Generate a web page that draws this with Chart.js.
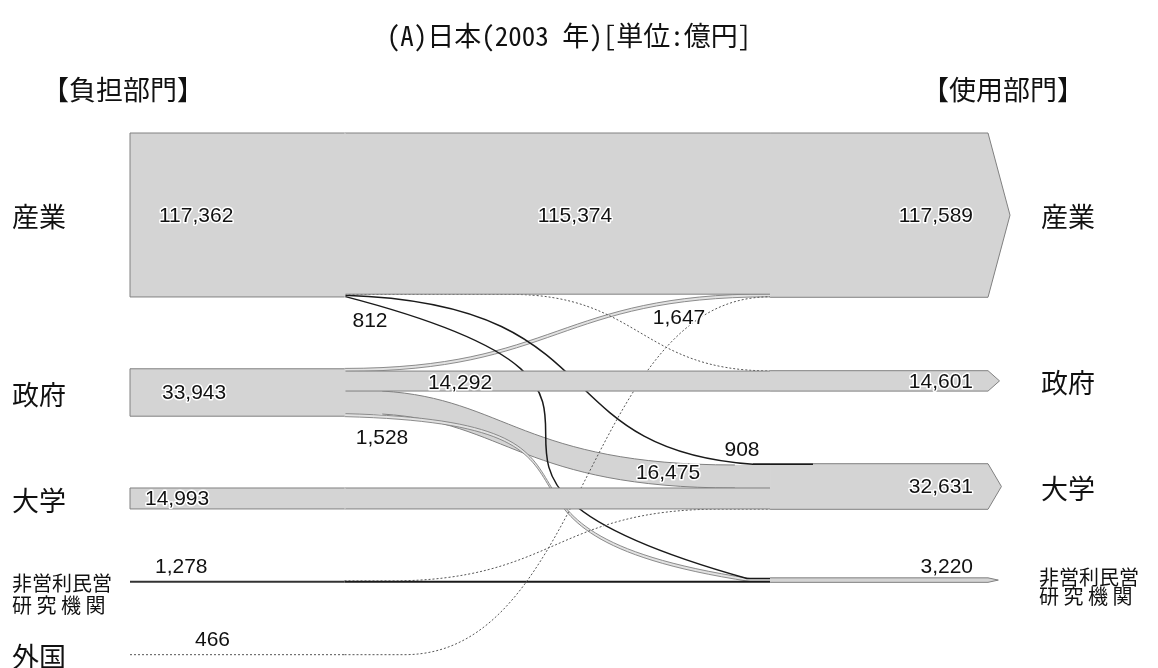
<!DOCTYPE html>
<html lang="ja">
<head>
<meta charset="utf-8">
<title>研究費の流れ 日本 2003年</title>
<script src="https://cdn.jsdelivr.net/npm/chart.js@4.4.1/dist/chart.umd.min.js"></script>
<style>
  html, body { margin: 0; padding: 0; background: #fff; }
  canvas { display: block; }
</style>
</head>
<body>
<canvas id="flow" width="1158" height="668"></canvas>
<script>
// ---- data (単位: 億円) ----
const titleText = '(A)日本(2003 年)[単位:億円]'
const leftHead = '【負担部門】'
const rightHead = '【使用部門】'

const sourceNames = [['産業'], ['政府'], ['大学'], ['非営利民営', '研 究 機 関'], ['外国']]
const sourceTotals = [117362, 33943, 14993, 1278, 466]
const targetNames = [['産業'], ['政府'], ['大学'], ['非営利民営', '研 究 機 関']]
const targetTotals = [117589, 14601, 32631, 3220]

// flows 負担 -> 使用 (only the ones drawn in the figure)
const flowFrom   = [0, 0, 0, 0, 1, 1, 1, 1, 2, 3, 3, 4]
const flowTo     = [0, 1, 2, 3, 0, 1, 2, 3, 2, 2, 3, 0]
const flowValues = [115374, 268, 908, 812, 1647, 14292, 16475, 1528, 14993, 255, 880, 466]

// ---- layout ----
const GAP = 51400          // vertical gap between nodes, in 億円 units
const SRC_END = 25         // x (0-100) where the left boxes stop
const TGT_START = 74.6     // x where the right arrows start
// curve per flow: [x start, x end, handle start, handle end, tilt start, tilt end]
const curves = {
  1: [44.3, 74.6, 0.5, 0.5, 0, 0],
  2: [25, 72.6, 0.67, 0.52, 0.05, 0.09],
  3: [25, 71.9, 1.0, 1.0, 0.37, 0.4],
  4: [25, 74.6, 0.5, 0.5, 0, 0],
  6: [29.4, 70.5, 0.35, 0.6, 0.1, 0],
  7: [25, 72.3, 0.8, 0.8, 0.05, 0.3],
  9: [30.3, 68.8, 0.5, 0.5, 0, 0],
  11: [32, 74.6, 0.5, 0.5, 0, 0],
}
const lineTail = {2: 79.6}
const srcLabelX = [159, 162, 145, 155, 195]
const tgtLabelRight = 973
const flowLabelAt = {0: [575, 216], 2: [742, 450], 3: [370, 321], 4: [679, 318], 5: [460, 383], 6: [668, 473], 7: [382, 438]}

const FILL = '#d4d4d4'
const EDGE = '#808080'
const NUM_FONT = '21px "Liberation Sans", Arial, sans-serif'
const JP = '"Noto Sans CJK JP", sans-serif'
const JP_MONO = '"Noto Sans Mono CJK JP", "Noto Sans CJK JP", sans-serif'

// stack the left nodes, then place the right nodes so self flows run straight
const srcTop = []
let acc = 0
sourceTotals.forEach(v => { srcTop.push(acc); acc += v + GAP })
const yMax = acc - GAP

const fSrc = []
const srcCursor = srcTop.slice()
flowValues.forEach((v, i) => { fSrc[i] = srcCursor[flowFrom[i]]; srcCursor[flowFrom[i]] += v })

const tgtTop = targetTotals.map((t, j) => {
  const self = flowValues.findIndex((v, i) => flowFrom[i] === j && flowTo[i] === j)
  let above = 0
  flowValues.forEach((v, i) => { if (flowTo[i] === j && flowFrom[i] < j) above += v })
  return fSrc[self] - above
})
const fTgt = []
const tgtCursor = tgtTop.slice()
flowValues.forEach((v, i) => { fTgt[i] = tgtCursor[flowTo[i]]; tgtCursor[flowTo[i]] += v })

function numLabel(ctx, text, px, py, align) {
  ctx.save()
  ctx.font = NUM_FONT
  ctx.textAlign = align
  ctx.textBaseline = 'middle'
  ctx.lineJoin = 'round'
  ctx.lineWidth = 3
  ctx.strokeStyle = '#fff'
  ctx.strokeText(text, px, py)
  ctx.fillStyle = '#111'
  ctx.fillText(text, px, py)
  ctx.restore()
}

const flowPlugin = {
  id: 'flowPlugin',
  afterDraw(chart) {
    const {ctx, scales: {x, y}} = chart
    const X = v => x.getPixelForValue(v)
    const Y = v => y.getPixelForValue(v)
    const xs = X(SRC_END), xt = X(TGT_START), xEnd = X(100), xLeft = X(0)
    const fmt = v => v.toLocaleString('en-US')

    const bez = (c, ya, yb) => {
      const [u0, u1, k0, k1, t0, t1] = c
      const x0 = X(u0), x1 = X(u1), dx = x1 - x0, dy = yb - ya
      return [x0 + k0 * dx, ya + t0 * dy, x1 - k1 * dx, yb - t1 * dy, x1, yb]
    }

    const geo = flowValues.map((v, i) => {
      let a0 = Y(fSrc[i]), a1 = Y(fSrc[i] + v)
      let b0 = Y(fTgt[i]), b1 = Y(fTgt[i] + v)
      if (v >= 1000 && a1 - a0 < 3) {
        const ma = (a0 + a1) / 2, mb = (b0 + b1) / 2
        a0 = ma - 1.5; a1 = ma + 1.5; b0 = mb - 1.5; b1 = mb + 1.5
      }
      return {v, a0, a1, b0, b1, self: flowFrom[i] === flowTo[i], c: curves[i]}
    })

    ctx.save()
    ctx.lineCap = 'butt'

    // 1. curved bands
    geo.forEach(g => {
      if (g.self || g.v < 1000) return
      const x0 = X(g.c[0]), x1 = X(g.c[1])
      const top = bez(g.c, g.a0, g.b0)
      const bot = bez(g.c, g.a1, g.b1)
      ctx.beginPath()
      ctx.moveTo(xs, g.a0)
      ctx.lineTo(x0, g.a0)
      ctx.bezierCurveTo(...top)
      ctx.lineTo(xt, g.b0)
      ctx.lineTo(xt, g.b1)
      ctx.lineTo(x1, g.b1)
      ctx.bezierCurveTo(bot[2], bot[3], bot[0], bot[1], x0, g.a1)
      ctx.lineTo(xs, g.a1)
      ctx.closePath()
      ctx.fillStyle = g.v >= 10000 ? FILL : '#e2e2e2'
      ctx.fill()
      ctx.strokeStyle = EDGE
      ctx.lineWidth = g.v >= 10000 ? 1 : 0.9
      ctx.beginPath()
      ctx.moveTo(x0, g.a0); ctx.bezierCurveTo(...top)
      ctx.moveTo(x0, g.a1); ctx.bezierCurveTo(...bot)
      ctx.stroke()
    })

    // 2. thin flows: solid or dotted lines
    const lineStyle = g => {
      if (g.v >= 500) {
        ctx.setLineDash([])
        ctx.strokeStyle = '#1a1a1a'
        ctx.lineWidth = g.self ? 2 : 1.5
      } else {
        ctx.setLineDash([2, 2])
        ctx.strokeStyle = '#555'
        ctx.lineWidth = 1
      }
    }
    geo.forEach(g => {
      if (g.v >= 1000) return
      const ya = (g.a0 + g.a1) / 2, yb = (g.b0 + g.b1) / 2
      ctx.beginPath()
      ctx.moveTo(xs, ya)
      if (g.self) {
        ctx.lineTo(xt, yb)
      } else {
        ctx.lineTo(X(g.c[0]), ya)
        ctx.bezierCurveTo(...bez(g.c, ya, yb))
        ctx.lineTo(xt, yb)
      }
      lineStyle(g)
      ctx.stroke()
    })
    ctx.setLineDash([])

    // 3. straight self bands
    geo.forEach(g => {
      if (!g.self || g.v < 1000) return
      ctx.fillStyle = FILL
      ctx.fillRect(xs - 1, g.a0, xt - xs + 2, g.a1 - g.a0)
      ctx.strokeStyle = EDGE
      ctx.lineWidth = 1
      ctx.beginPath()
      ctx.moveTo(xs, g.a0); ctx.lineTo(xt, g.a0)
      ctx.moveTo(xs, g.a1); ctx.lineTo(xt, g.a1)
      ctx.stroke()
    })

    // 4. left nodes
    sourceTotals.forEach((t, i) => {
      const y0 = Y(srcTop[i]), y1 = Y(srcTop[i] + t), ym = (y0 + y1) / 2
      if (t >= 2000) {
        ctx.fillStyle = FILL
        ctx.fillRect(xLeft, y0, xs - xLeft + 1, y1 - y0)
        ctx.strokeStyle = EDGE
        ctx.lineWidth = 1
        ctx.beginPath()
        ctx.moveTo(xs, y0); ctx.lineTo(xLeft, y0); ctx.lineTo(xLeft, y1); ctx.lineTo(xs, y1)
        ctx.stroke()
      } else {
        ctx.beginPath()
        ctx.moveTo(xLeft, ym); ctx.lineTo(xs, ym)
        if (t >= 500) {
          ctx.strokeStyle = '#333'; ctx.lineWidth = 2
        } else {
          ctx.setLineDash([2, 2]); ctx.strokeStyle = '#555'; ctx.lineWidth = 1
        }
        ctx.stroke()
        ctx.setLineDash([])
      }
    })

    // 5. right arrows
    targetTotals.forEach((t, j) => {
      const y0 = Y(tgtTop[j]), y1 = Y(tgtTop[j] + t), ym = (y0 + y1) / 2
      const tip = Math.min(22, 10 + (y1 - y0) * 0.075)
      ctx.beginPath()
      ctx.moveTo(xt, y0); ctx.lineTo(xEnd, y0); ctx.lineTo(xEnd + tip, ym)
      ctx.lineTo(xEnd, y1); ctx.lineTo(xt, y1)
      ctx.fillStyle = FILL
      ctx.fill()
      ctx.strokeStyle = EDGE
      ctx.lineWidth = 1
      ctx.stroke()
    })

    // line flows that run on along the top of an arrow
    Object.keys(lineTail).forEach(k => {
      const g = geo[k]
      const yb = (g.b0 + g.b1) / 2
      ctx.beginPath()
      ctx.moveTo(X(g.c[1]), yb)
      ctx.lineTo(X(lineTail[k]), yb)
      lineStyle(g)
      ctx.stroke()
    })
    ctx.restore()

    // 6. text
    ctx.save()
    ctx.fillStyle = '#111'
    ctx.textBaseline = 'middle'
    ctx.textAlign = 'center'
    ctx.font = '27px ' + JP_MONO
    ctx.fillText(titleText, 569, 36)
    ctx.textAlign = 'left'
    ctx.font = '27px ' + JP
    ctx.fillText(leftHead, 42, 90)
    ctx.fillText(rightHead, 922, 90)

    sourceNames.forEach((lines, i) => {
      const ym = (Y(srcTop[i]) + Y(srcTop[i] + sourceTotals[i])) / 2
      if (lines.length > 1) {
        ctx.font = '20px ' + JP
        lines.forEach((s, k) => ctx.fillText(s, 12, ym + 2 + k * 22))
      } else {
        ctx.font = '27px ' + JP
        ctx.fillText(lines[0], 12, ym + 2)
      }
    })
    targetNames.forEach((lines, j) => {
      const ym = (Y(tgtTop[j]) + Y(tgtTop[j] + targetTotals[j])) / 2
      if (lines.length > 1) {
        ctx.font = '20px ' + JP
        lines.forEach((s, k) => ctx.fillText(s, 1039, ym - 3 + k * 19))
      } else {
        ctx.font = '27px ' + JP
        ctx.fillText(lines[0], 1041, ym + 2)
      }
    })
    ctx.restore()

    sourceTotals.forEach((t, i) => {
      const y0 = Y(srcTop[i]), y1 = Y(srcTop[i] + t)
      const ly = y1 - y0 < 12 ? y0 - 14 : (y0 + y1) / 2 + 1
      numLabel(ctx, fmt(t), srcLabelX[i], ly, 'left')
    })
    targetTotals.forEach((t, j) => {
      const y0 = Y(tgtTop[j]), y1 = Y(tgtTop[j] + t)
      const ly = y1 - y0 < 12 ? y0 - 11 : (y0 + y1) / 2 + 1
      numLabel(ctx, fmt(t), tgtLabelRight, ly, 'right')
    })
    Object.keys(flowLabelAt).forEach(k => {
      const [lx, ly] = flowLabelAt[k]
      numLabel(ctx, fmt(flowValues[k]), lx, ly, 'center')
    })
  }
}

new Chart(document.getElementById('flow'), {
  type: 'scatter',
  data: {datasets: [{data: [], pointRadius: 0}]},
  options: {
    responsive: false,
    animation: false,
    events: [],
    layout: {padding: {left: 130, right: 170, top: 133, bottom: 13}},
    scales: {
      x: {type: 'linear', min: 0, max: 100, display: false},
      y: {type: 'linear', min: 0, max: yMax, reverse: true, display: false},
    },
    plugins: {
      legend: {display: false},
      tooltip: {enabled: false},
    },
  },
  plugins: [flowPlugin],
})
</script>
</body>
</html>
